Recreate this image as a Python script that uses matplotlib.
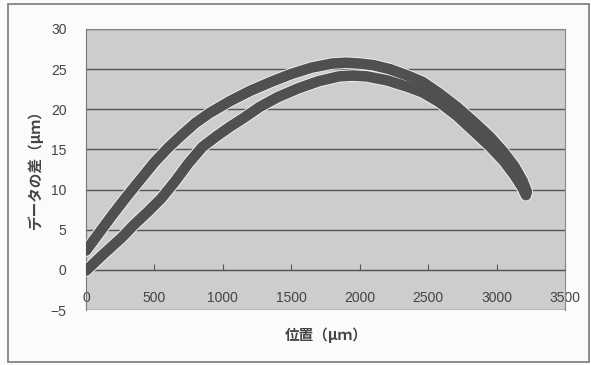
import matplotlib
matplotlib.use("Agg")
import matplotlib.pyplot as plt
from matplotlib.patches import Rectangle

plt.rcParams['font.family'] = ['Liberation Sans', 'Noto Sans CJK JP', 'DejaVu Sans']

# position along the sample (um) and measured difference (um)
pos_a = [0, 100, 200, 300, 400, 500, 600, 700, 800, 900, 1050, 1200, 1350, 1500,
         1650, 1800, 1900, 2000, 2100, 2220, 2350, 2460, 2580, 2710, 2830, 2950,
         3050, 3130, 3190, 3222]
diff_a = [2.4, 4.7, 7.0, 9.2, 11.3, 13.4, 15.2, 16.8, 18.3, 19.5, 21.0, 22.3, 23.4,
          24.4, 25.2, 25.7, 25.8, 25.7, 25.5, 25.0, 24.2, 23.4, 22.0, 20.3, 18.5,
          16.6, 14.7, 12.9, 11.1, 9.7]

pos_b = [0, 130, 260, 350, 450, 550, 650, 750, 850, 950, 1050, 1150, 1270, 1400,
         1550, 1700, 1850, 1950, 2050, 2200, 2350, 2460, 2580, 2710, 2830, 2950,
         3050, 3130, 3190, 3215]
diff_b = [-0.1, 2.0, 4.0, 5.6, 7.2, 8.9, 11.0, 13.3, 15.3, 16.6, 17.8, 18.9, 20.3,
          21.5, 22.6, 23.5, 24.1, 24.2, 24.1, 23.6, 22.8, 22.1, 20.9, 19.2, 17.3,
          15.4, 13.6, 11.8, 10.2, 9.3]

x_ticks = [0, 500, 1000, 1500, 2000, 2500, 3000, 3500]
y_ticks = [-5, 0, 5, 10, 15, 20, 25, 30]

fig = plt.figure(figsize=(5.91, 3.65), dpi=100, facecolor="#fbfbfb")
ax = fig.add_axes([86 / 591, 1 - 310 / 365, 479 / 591, 281 / 365])
ax.set_facecolor("#cdcdcd")

# outer chart frame
fig.patches.append(Rectangle((8 / 591, 1 - 362 / 365), 581 / 591, 358 / 365,
                             transform=fig.transFigure, fill=False,
                             edgecolor="#7a7a7a", linewidth=1.2))

ax.set_xlim(0, 3500)
ax.set_ylim(-5, 30)
ax.set_yticks(y_ticks)
ax.set_xticks(x_ticks)
ax.yaxis.grid(True, color="#555555", linewidth=1.0)
ax.set_axisbelow(True)

# light halo first, then the dark bands, so the overlapping part stays solid
for xs, ys in [(pos_a, diff_a), (pos_b, diff_b)]:
    ax.plot(xs, ys, color="#eeeeee", linewidth=9.0, solid_capstyle="round", zorder=3)
for xs, ys in [(pos_a, diff_a), (pos_b, diff_b)]:
    ax.plot(xs, ys, color="#505050", linewidth=7.6, solid_capstyle="round", zorder=4)

ax.spines["bottom"].set_position(("data", 0))
ax.spines["bottom"].set_color("#555555")
ax.spines["left"].set_color("#777777")
ax.spines["right"].set_color("#888888")
ax.spines["top"].set_color("#888888")
ax.tick_params(axis="x", direction="in", length=4, color="#555555", pad=15,
               labelsize=10, labelcolor="#444444")
ax.tick_params(axis="y", length=0, pad=14, labelsize=10, labelcolor="#444444")

fig.text(35 / 591, 1 - 166 / 365, "データの差（μｍ）", rotation=90, ha="center",
         va="center", fontsize=10.5, fontweight="bold", color="#444444",
         family=["Noto Sans CJK JP", "DejaVu Sans"])
fig.text(326 / 591, 1 - 335 / 365, "位置（μｍ）", ha="center", va="center",
         fontsize=10.5, fontweight="bold", color="#444444",
         family=["Noto Sans CJK JP", "DejaVu Sans"])

fig.savefig("out.png", dpi=100, facecolor=fig.get_facecolor())
